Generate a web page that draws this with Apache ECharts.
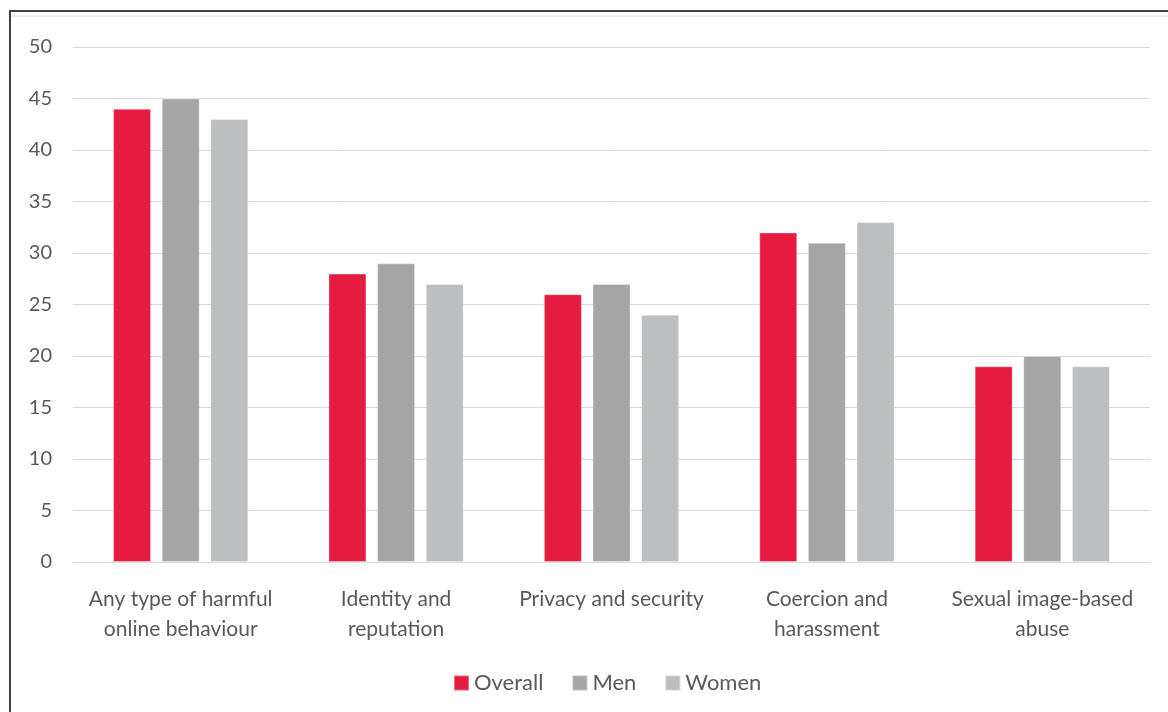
<!DOCTYPE html>
<html><head><meta charset="utf-8">
<script src="https://cdn.jsdelivr.net/npm/echarts@6/dist/echarts.min.js"></script>
<style>html,body{margin:0;padding:0;background:#fff}#c{width:1168px;height:712px}</style>
</head><body><div id="c"></div>
<script>
var categories = ["Any type of harmful\nonline behaviour", "Identity and\nreputation", "Privacy and security", "Coercion and\nharassment", "Sexual image-based\nabuse"];
var overall = [44, 28, 26, 32, 19];
var men = [45, 29, 27, 31, 20];
var women = [43, 27, 24, 33, 19];
var yTicks = [0, 5, 10, 15, 20, 25, 30, 35, 40, 45, 50];

var chart = echarts.init(document.getElementById('c'));
var font = 'Lato, "Open Sans", sans-serif';
function bar(name, data, color) {
  return {name: name, type: 'bar', data: data, barWidth: 38, barGap: '28%',
    itemStyle: {color: color, borderColor: 'rgba(255,255,255,0.35)', borderWidth: 1}};
}
chart.setOption({
  animation: false,
  graphic: [
    {type: 'rect', shape: {x: 10, y: 11, width: 1200, height: 800}, style: {fill: 'none', stroke: '#404040', lineWidth: 2}},
    {type: 'line', shape: {x1: 11, y1: 16, x2: 1168, y2: 16}, style: {stroke: '#d9d9d9', lineWidth: 1}}
  ],
  grid: {left: 73, right: 18, top: 47, bottom: 150},
  legend: {bottom: 13, left: 448, itemWidth: 15, itemHeight: 15, itemGap: 28, icon: 'rect',
    textStyle: {fontFamily: font, fontSize: 22, color: '#595959'},
    data: ['Overall', 'Men', 'Women']},
  xAxis: {type: 'category', data: categories,
    axisLine: {lineStyle: {color: '#d9d9d9', width: 1}}, axisTick: {show: false},
    axisLabel: {interval: 0, fontFamily: font, fontSize: 21, color: '#595959', lineHeight: 30, margin: 22}},
  yAxis: {type: 'value', min: 0, max: 50, interval: 5,
    axisLine: {show: false}, axisTick: {show: false},
    splitLine: {lineStyle: {color: '#d9d9d9', width: 1}},
    axisLabel: {fontFamily: font, fontSize: 20, color: '#595959', margin: 21,
      formatter: function (v) { return yTicks.indexOf(v) >= 0 ? String(v) : ''; }}},
  series: [bar('Overall', overall, '#e51c3f'), bar('Men', men, '#a5a5a5'), bar('Women', women, '#bdbec0')]
});
</script></body></html>
